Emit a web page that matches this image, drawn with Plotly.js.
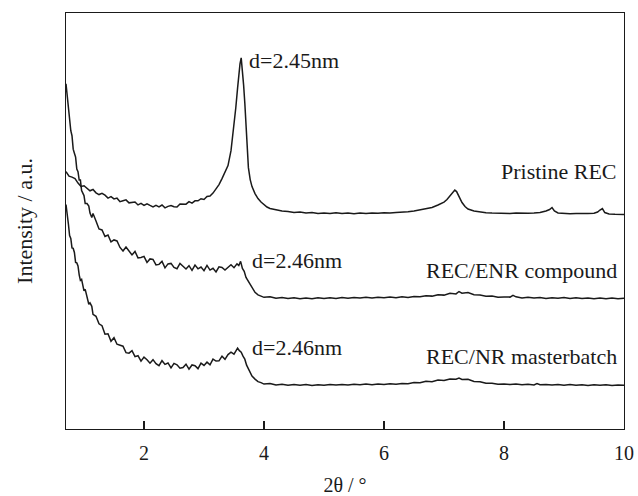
<!DOCTYPE html>
<html>
<head>
<meta charset="utf-8">
<script src="https://cdn.plot.ly/plotly-3.0.1.min.js"></script>
<style>
  html, body { margin: 0; padding: 0; background: #fff; }
  #chart { width: 638px; height: 496px; }
</style>
</head>
<body>
<div id="chart"></div>
<script>
// XRD patterns (2θ in degrees, intensity in arbitrary units, curves stacked with offsets)

const pristineX = [0.70,0.75,0.80,0.85,0.90,0.95,1.00,1.05,1.10,1.15,1.20,1.25,1.30,1.35,1.40,1.45,1.50,1.55,1.60,1.65,1.70,1.75,1.80,1.85,1.90,1.95,2.00,2.05,2.10,2.15,2.20,2.25,2.30,2.35,2.40,2.45,2.50,2.55,2.60,2.65,2.70,2.75,2.80,2.85,2.90,2.95,3.00,3.05,3.10,3.15,3.20,3.25,3.30,3.35,3.40,3.45,3.50,3.53,3.56,3.58,3.60,3.62,3.64,3.66,3.68,3.70,3.72,3.74,3.77,3.80,3.85,3.90,3.95,4.00,4.05,4.10,4.20,4.30,4.40,4.50,4.60,4.70,4.80,4.90,5.00,5.10,5.20,5.30,5.40,5.50,5.60,5.70,5.80,5.90,6.00,6.10,6.20,6.30,6.40,6.50,6.60,6.70,6.80,6.90,7.00,7.05,7.10,7.15,7.18,7.21,7.25,7.30,7.35,7.40,7.50,7.60,7.70,7.80,7.90,8.00,8.10,8.20,8.30,8.40,8.50,8.60,8.70,8.76,8.80,8.84,8.90,9.00,9.10,9.20,9.30,9.40,9.50,9.56,9.60,9.64,9.68,9.75,9.85,9.95,10.00];
const pristineY = [258,253.5,252.5,251,246.5,243.2,243.8,241.7,238.8,240.1,236.7,235,236.2,234.4,231.4,232.9,230.6,231.4,227.9,228.8,229.7,226.7,226.8,227.6,224.6,226.1,224.1,225.8,224.1,222.6,224.2,222.7,224.5,221.7,223.2,224.1,222.8,222.5,225.5,225.6,225.4,227.9,226.4,228.7,228.7,230.8,230.1,233.1,233.6,236.5,240.5,245,251,258,264,279,303,322,342,355,366,372,360,345,327,302,278,262,250,243,236,231,227.5,224.5,222.5,221,219.5,218.5,218,217,217.5,216.5,217,216,216.5,216,216.8,216,216.5,215.8,216.4,216,216.6,216.2,216.8,216.5,217,217.2,217.8,218.5,219.5,220.5,222,224.5,227.5,230,233.5,237,239.5,238,233,227,223,220.5,218.5,217.5,216.8,216.5,216.2,216.5,216,216.4,216,216.3,216.5,217,218.5,220,222,218.5,216.5,216,215.8,216,215.6,215.9,216.3,217.5,219.5,221,217,215.5,215.2,215,215];

const enrX = [0.70,0.72,0.74,0.76,0.78,0.80,0.82,0.84,0.86,0.88,0.90,0.92,0.94,0.96,0.98,1.00,1.02,1.05,1.08,1.10,1.13,1.15,1.20,1.25,1.30,1.35,1.40,1.45,1.50,1.55,1.60,1.65,1.70,1.75,1.80,1.85,1.90,1.95,2.00,2.05,2.10,2.15,2.20,2.25,2.30,2.35,2.40,2.45,2.50,2.55,2.60,2.65,2.70,2.75,2.80,2.85,2.90,2.95,3.00,3.05,3.10,3.15,3.20,3.25,3.30,3.35,3.40,3.45,3.50,3.55,3.58,3.61,3.64,3.67,3.70,3.73,3.76,3.80,3.85,3.90,3.95,4.00,4.10,4.20,4.30,4.40,4.50,4.60,4.70,4.80,4.90,5.00,5.10,5.20,5.30,5.40,5.50,5.60,5.70,5.80,5.90,6.00,6.10,6.20,6.30,6.40,6.50,6.60,6.70,6.80,6.90,7.00,7.10,7.20,7.25,7.30,7.40,7.50,7.60,7.70,7.80,7.90,8.00,8.10,8.15,8.20,8.30,8.40,8.50,8.60,8.70,8.80,8.90,9.00,9.10,9.20,9.30,9.40,9.50,9.60,9.70,9.80,9.90,10.00];
const enrY = [346,335,318,311.5,299,294,280.5,276.5,272.5,260.5,258,249.5,249.5,239,235.5,234,226,226,223.5,216.5,212,216,208.5,200.5,199.5,193,194.5,187.5,189.5,188.5,182,178.5,182.5,179,174.5,178,171.5,172,173,167,170.5,170,164.5,165,168,161.5,165.5,166,162,160.7,166,163.2,160.4,163.7,159,164.3,160.6,162.4,158.7,164,159.3,161.1,157.5,162.6,162,159.4,162,164.6,161.7,165.5,163.8,168,161,158,152,149,145,141,137,134.5,133,132,132.5,131,131.8,130.8,131.5,130.5,131.4,130.6,131.5,130.8,131.6,130.9,131.7,131,131.9,131.2,132,131.3,132.1,131.5,132.3,131.6,132.5,131.9,132.8,132.5,133.6,133.2,134.6,134.2,136,135.4,137.8,136.2,136.8,134.6,134.4,133,133.4,132,132.4,132.2,134,132.5,131.4,132,131.2,131.8,130.9,131.6,131,131.8,130.8,131.5,130.7,131.4,130.6,131.3,130.5,131.2,130.6,131];

const nrX = [0.70,0.72,0.74,0.76,0.78,0.80,0.82,0.84,0.86,0.88,0.90,0.92,0.94,0.96,0.98,1.00,1.02,1.05,1.08,1.10,1.13,1.15,1.20,1.25,1.30,1.35,1.40,1.45,1.50,1.55,1.60,1.65,1.70,1.75,1.80,1.85,1.90,1.95,2.00,2.05,2.10,2.15,2.20,2.25,2.30,2.35,2.40,2.45,2.50,2.55,2.60,2.65,2.70,2.75,2.80,2.85,2.90,2.95,3.00,3.05,3.10,3.15,3.20,3.25,3.30,3.35,3.40,3.45,3.50,3.53,3.56,3.59,3.62,3.65,3.68,3.71,3.74,3.77,3.80,3.85,3.90,3.95,4.00,4.10,4.20,4.30,4.40,4.50,4.60,4.70,4.80,4.90,5.00,5.10,5.20,5.30,5.40,5.50,5.60,5.70,5.80,5.90,6.00,6.10,6.20,6.30,6.40,6.50,6.60,6.70,6.80,6.90,7.00,7.10,7.20,7.25,7.30,7.40,7.50,7.60,7.70,7.80,7.90,8.00,8.10,8.20,8.30,8.40,8.50,8.55,8.60,8.70,8.80,8.90,9.00,9.10,9.20,9.30,9.40,9.50,9.60,9.70,9.80,9.90,10.00];
const nrY = [225,211,205.5,194,191,181.5,181,177,167,166.5,163.5,154.5,149,150,144.5,138.5,140,131,125,126.5,123,115,113,105.5,103.5,95,95.5,88,91.5,85,84,83,76.5,76,78.5,72.5,73.5,68,72,69.5,66,69.5,65.5,63.5,68.5,64.8,66.2,61.2,65.8,64.4,61,61.7,65,60,64.2,63.5,60.5,66,63.7,67,64.4,70,68.1,68.3,73,69.8,74.6,77,75,78,81,78.5,77,73,70,64,60,57,53,50,47.5,46.5,45,45.5,44.2,44.8,43.9,44.6,43.8,44.5,43.7,44.4,43.9,44.6,44,44.7,44.1,44.8,44.3,45,44.4,45.2,44.6,45.3,44.8,45.6,45.4,46.6,46.3,47.8,47.4,49,48.6,50.2,49.8,51,49.6,49.8,47.6,47.4,45.8,45.9,44.8,45.2,44.5,45,44.3,44.9,44.2,45.6,44.3,44.7,44,44.6,43.9,44.5,43.8,44.4,43.7,44.3,43.8,44.4,43.7,44.2,43.8];

const xTicks = [2, 4, 6, 8, 10];

// Curve labels and d-spacing notes: [text, x, y, horizontal anchor]
const labels = [
  ["d=2.45nm", 3.72, 369, "left"],
  ["d=2.46nm", 3.76, 169, "left"],
  ["d=2.46nm", 3.76, 82, "left"],
  ["Pristine REC", 9.92, 258, "right"],
  ["REC/ENR compound", 9.91, 159, "right"],
  ["REC/NR masterbatch", 9.91, 73, "right"]
];

const ink = "#1a1a1a";
const serif = "Liberation Serif";
const line = { color: ink, width: 1.5 };

const traces = [
  { x: pristineX, y: pristineY, name: "Pristine REC", mode: "lines", line: line },
  { x: enrX, y: enrY, name: "REC/ENR compound", mode: "lines", line: line },
  { x: nrX, y: nrY, name: "REC/NR masterbatch", mode: "lines", line: line }
];

const layout = {
  width: 638,
  height: 496,
  margin: { l: 66, r: 14, t: 13, b: 67 },
  paper_bgcolor: "#fff",
  plot_bgcolor: "#fff",
  showlegend: false,
  font: { family: serif, color: ink, size: 20 },
  xaxis: {
    range: [0.7, 10],
    tickvals: xTicks,
    ticktext: xTicks.map(String),
    ticks: "inside",
    ticklen: 8,
    tickwidth: 1.3,
    tickcolor: ink,
    ticklabelstandoff: 6,
    tickfont: { family: serif, size: 20, color: ink },
    showline: true,
    linecolor: ink,
    linewidth: 1.3,
    mirror: true,
    showgrid: false,
    zeroline: false,
    title: { text: "2θ / °", font: { family: serif, size: 20, color: ink }, standoff: 18 }
  },
  yaxis: {
    range: [0, 417],
    showticklabels: false,
    ticks: "",
    showline: true,
    linecolor: ink,
    linewidth: 1.3,
    mirror: true,
    showgrid: false,
    zeroline: false,
    title: { text: "Intensity / a.u.", font: { family: serif, size: 22, color: ink }, standoff: 26 }
  },
  annotations: labels.map(function (l) {
    return {
      text: l[0], x: l[1], y: l[2], xref: "x", yref: "y",
      xanchor: l[3], yanchor: "middle", showarrow: false,
      font: { family: serif, size: 22, color: ink }
    };
  })
};

Plotly.newPlot("chart", traces, layout, { displayModeBar: false, staticPlot: true });
</script>
</body>
</html>
